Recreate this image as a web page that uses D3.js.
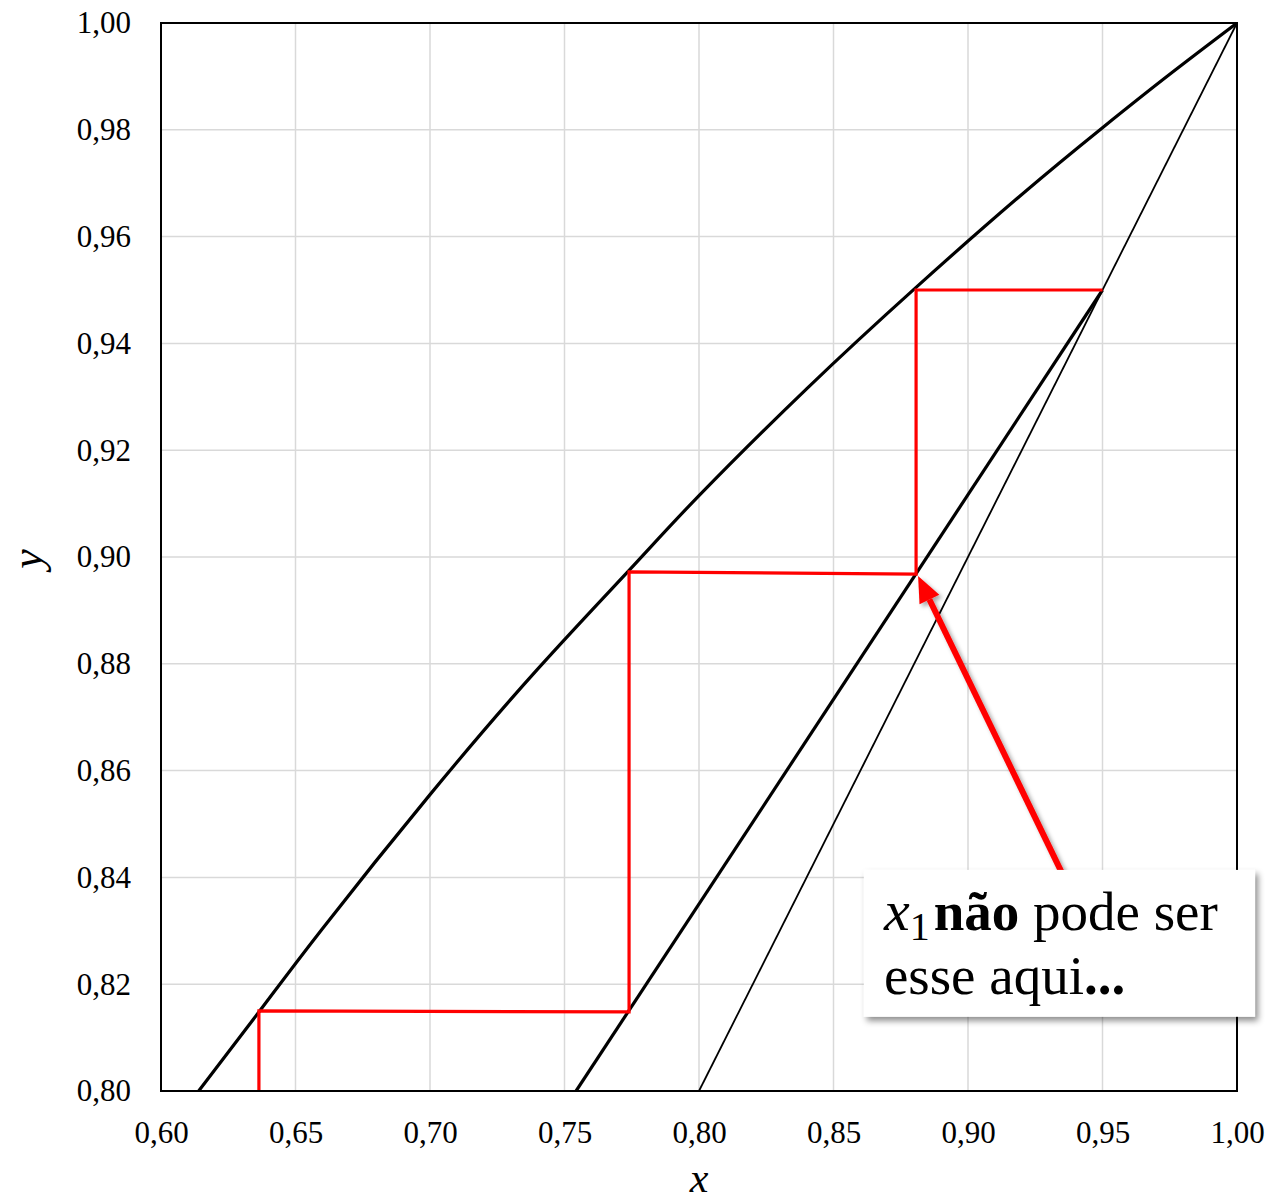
<!DOCTYPE html>
<html><head><meta charset="utf-8">
<script src="https://cdn.jsdelivr.net/npm/d3@7"></script>
<style>body{margin:0;background:#fff}svg{display:block}</style>
</head><body>
<svg id="c" width="1273" height="1203"></svg>
<script>
// ---- data ----
const xTicks = [0.60,0.65,0.70,0.75,0.80,0.85,0.90,0.95,1.00];
const yTicks = [0.80,0.82,0.84,0.86,0.88,0.90,0.92,0.94,0.96,0.98,1.00];
// equilibrium curve
const eqX = [0.6140,0.6364,0.66,0.70,0.74,0.774,0.80,0.84,0.8807,0.92,0.95,0.975,1.00];
const eqY = [0.8000,0.8148,0.8304,0.8555,0.8790,0.8975,0.9115,0.9315,0.9505,0.9679,0.9804,0.9904,1.000];
// operating line
const opX = [0.7543,0.95];
const opY = [0.800,0.950];
// diagonal y = x
const diagX = [0.80,1.00];
const diagY = [0.80,1.00];
// red stages
const stX = [0.6364,0.6364,0.774,0.774,0.8807,0.8807,0.95];
const stY = [0.800,0.8150,0.8148,0.8972,0.8968,0.950,0.950];
// annotation
const arrowTip = [0.8807,0.8968];
const arrowTail = [0.935,0.8415];
const boxX = [0.8613,1.0067];
const boxY = [0.8414,0.8139];
const line1 = ["x","1","não"," pode ser"];
const line2 = ["esse aqui","..."];

const svg = d3.select("#c");
const m = {l:161,t:23,w:1076,h:1068};
const x = d3.scaleLinear().domain([0.6,1.0]).range([m.l,m.l+m.w]);
const y = d3.scaleLinear().domain([0.8,1.0]).range([m.t+m.h,m.t]);
const fmt = d => d3.format(".2f")(d).replace(".",",");
const font = "'Liberation Serif', 'DejaVu Serif', serif";

const defs = svg.append("defs");
defs.append("clipPath").attr("id","clip").append("rect").attr("x",m.l).attr("y",m.t).attr("width",m.w).attr("height",m.h);
const f = defs.append("filter").attr("id","sh").attr("x","-20%").attr("y","-20%").attr("width","150%").attr("height","150%");
f.append("feDropShadow").attr("dx",3).attr("dy",4).attr("stdDeviation",3).attr("flood-color","#000").attr("flood-opacity",0.45);
const f2 = defs.append("filter").attr("id","sh2").attr("x","-50%").attr("y","-50%").attr("width","200%").attr("height","200%");
f2.append("feDropShadow").attr("dx",3).attr("dy",3).attr("stdDeviation",2).attr("flood-color","#000").attr("flood-opacity",0.35);

// grid
svg.append("g").selectAll("line").data(xTicks.slice(1,-1)).join("line")
  .attr("x1",d=>x(d)).attr("x2",d=>x(d)).attr("y1",m.t).attr("y2",m.t+m.h)
  .attr("stroke","#d9d9d9").attr("stroke-width",1.5);
svg.append("g").selectAll("line").data(yTicks.slice(1,-1)).join("line")
  .attr("y1",d=>y(d)).attr("y2",d=>y(d)).attr("x1",m.l).attr("x2",m.l+m.w)
  .attr("stroke","#d9d9d9").attr("stroke-width",1.5);

// axes via d3
const xa = svg.append("g").attr("transform",`translate(0,${m.t+m.h})`)
  .call(d3.axisBottom(x).tickValues(xTicks).tickFormat(fmt).tickSize(0).tickPadding(30));
const ya = svg.append("g").attr("transform",`translate(${m.l},0)`)
  .call(d3.axisLeft(y).tickValues(yTicks).tickFormat(fmt).tickSize(0).tickPadding(30));
[xa,ya].forEach(a=>{a.select(".domain").remove();
  a.selectAll("text").attr("font-family",font).attr("font-size",31).attr("fill","#000");});

// lines
const ln = d3.line().x(d=>x(d[0])).y(d=>y(d[1]));
const g = svg.append("g").attr("clip-path","url(#clip)");
g.append("path").attr("d",ln(diagX.map((v,i)=>[v,diagY[i]]))).attr("fill","none").attr("stroke","#000").attr("stroke-width",1.8);
g.append("path").attr("d",d3.line().x(d=>x(d[0])).y(d=>y(d[1])).curve(d3.curveNatural)(eqX.map((v,i)=>[v,eqY[i]])))
  .attr("fill","none").attr("stroke","#000").attr("stroke-width",3.2);
g.append("path").attr("d",ln(opX.map((v,i)=>[v,opY[i]]))).attr("fill","none").attr("stroke","#000").attr("stroke-width",3.2);
g.append("path").attr("d",ln(stX.map((v,i)=>[v,stY[i]]))).attr("fill","none").attr("stroke","#ff0000").attr("stroke-width",3.2).attr("stroke-linejoin","miter");

// border
svg.append("rect").attr("x",m.l).attr("y",m.t).attr("width",m.w).attr("height",m.h)
  .attr("fill","none").attr("stroke","#000").attr("stroke-width",2);

// axis titles
svg.append("text").attr("x",x(0.80)).attr("y",1192).attr("text-anchor","middle")
  .attr("font-family",font).attr("font-style","italic").attr("font-size",42).text("x");
svg.append("text").attr("transform",`translate(42,${y(0.9)+2}) rotate(-90)`).attr("text-anchor","middle")
  .attr("font-family",font).attr("font-style","italic").attr("font-size",44).text("y");

// arrow
const tx = x(arrowTip[0])+2, ty = y(arrowTip[1])+2, sx = x(arrowTail[0]), sy = y(arrowTail[1])+4;
const ang = Math.atan2(ty-sy, tx-sx);
const hl = 26, hw = 11;
const bx = tx - hl*Math.cos(ang), by = ty - hl*Math.sin(ang);
const ag = svg.append("g").attr("filter","url(#sh2)");
ag.append("line").attr("x1",sx).attr("y1",sy).attr("x2",bx).attr("y2",by).attr("stroke","#ff0000").attr("stroke-width",6);
ag.append("path").attr("d",`M${tx},${ty} L${bx+hw*Math.sin(ang)},${by-hw*Math.cos(ang)} L${bx-hw*Math.sin(ang)},${by+hw*Math.cos(ang)} Z`).attr("fill","#ff0000");

// annotation box
svg.append("rect").attr("x",x(boxX[0])).attr("y",y(boxY[0])).attr("width",x(boxX[1])-x(boxX[0])).attr("height",y(boxY[1])-y(boxY[0]))
  .attr("fill","#fff").attr("filter","url(#sh)");
const t1 = svg.append("text").attr("x",x(boxX[0])+20).attr("y",y(boxY[0])+60).attr("font-family",font).attr("font-size",55);
t1.append("tspan").attr("font-style","italic").attr("font-size",58).text(line1[0]);
t1.append("tspan").attr("font-size",40).attr("dy",10).text(line1[1]);
t1.append("tspan").attr("dy",-10).attr("dx",4).attr("font-weight","bold").text(line1[2]);
t1.append("tspan").text(line1[3]);
const t2 = svg.append("text").attr("x",x(boxX[0])+20).attr("y",y(boxY[0])+124).attr("font-family",font).attr("font-size",55);
t2.append("tspan").text(line2[0]);
t2.append("tspan").attr("font-weight","bold").text(line2[1]);
</script>
</body></html>
